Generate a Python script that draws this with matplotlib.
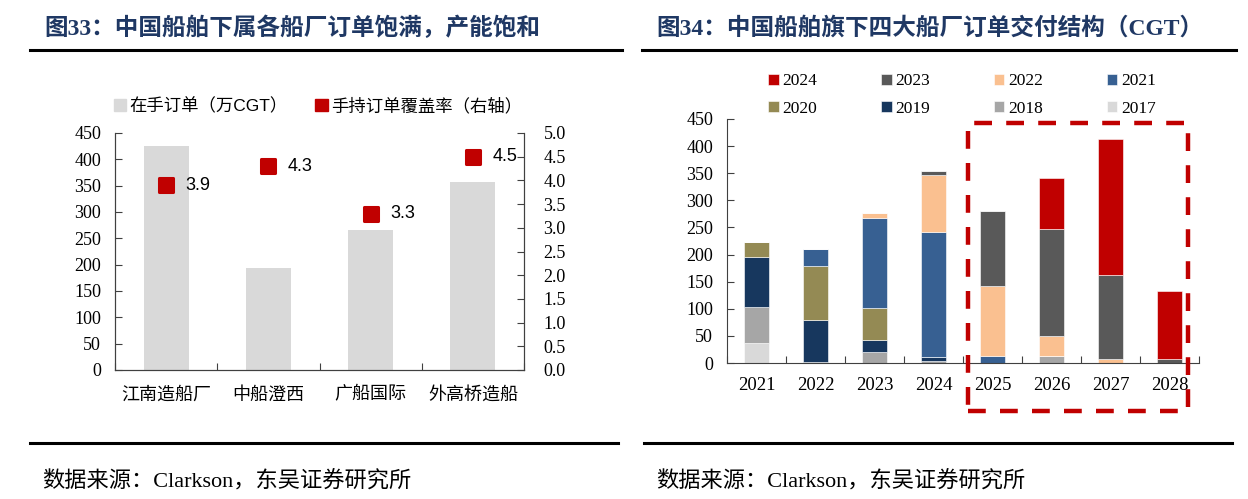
import numpy as np
import matplotlib
matplotlib.use('Agg')
import matplotlib.pyplot as plt
from matplotlib.lines import Line2D
from matplotlib.patches import Rectangle, Patch
from matplotlib.markers import MarkerStyle

# fonts: latin in serif, chinese falls back to Noto CJK
serif_cjk = ['Liberation Serif', 'Noto Sans CJK SC']
sans_cjk = ['Liberation Sans', 'Noto Sans CJK SC']
plt.rcParams['font.family'] = serif_cjk

# ---- data, left chart ----
yards = ['江南造船厂', '中船澄西', '广船国际', '外高桥造船']
orders = [425, 193, 265, 357]          # 在手订单（万CGT）
coverage = [3.9, 4.3, 3.3, 4.5]        # 手持订单覆盖率（右轴）

# ---- data, right chart ----
years = ['2021', '2022', '2023', '2024', '2025', '2026', '2027', '2028']
s2017 = [37, 0, 0, 0, 0, 0, 0, 0]
s2018 = [66, 2, 20, 3, 0, 12, 0, 0]
s2019 = [93, 78, 23, 8, 0, 0, 0, 0]
s2020 = [27, 99, 59, 0, 0, 0, 0, 0]
s2021 = [0, 31, 165, 230, 13, 0, 0, 0]
s2022 = [0, 0, 10, 105, 129, 38, 7, 0]
s2023 = [0, 0, 0, 9, 138, 197, 156, 7]
s2024 = [0, 0, 0, 0, 0, 94, 250, 125]
series = [('2017', s2017, '#D9D9D9'), ('2018', s2018, '#A6A6A6'),
          ('2019', s2019, '#17375E'), ('2020', s2020, '#948A54'),
          ('2021', s2021, '#376092'), ('2022', s2022, '#FAC090'),
          ('2023', s2023, '#595959'), ('2024', s2024, '#C00000')]

title_color = '#1F3864'
W, H = 1248, 499
fig = plt.figure(figsize=(W / 100, H / 100), dpi=100)


def fx(px):
    return px / W


def fy(py):
    return 1 - py / H


# ---- decorations: titles, rules, sources ----
fig.text(fx(44), fy(28), '图33：中国船舶下属各船厂订单饱满，产能饱和', fontsize=17,
         fontweight='bold', color=title_color, va='center', ha='left', family=serif_cjk)
fig.text(fx(656), fy(28), '图34：中国船舶旗下四大船厂订单交付结构（CGT）', fontsize=17,
         fontweight='bold', color=title_color, va='center', ha='left', family=serif_cjk)
for x0, x1, y in [(30, 622, 50), (642, 1236, 50), (30, 618, 443), (644, 1232, 443)]:
    fig.add_artist(Line2D([fx(x0), fx(x1)], [fy(y), fy(y)], color='black', lw=2.2))
fig.text(fx(42), fy(482), '数据来源：Clarkson，东吴证券研究所', fontsize=16,
         va='center', ha='left', family=serif_cjk)
fig.text(fx(656), fy(482), '数据来源：Clarkson，东吴证券研究所', fontsize=16,
         va='center', ha='left', family=serif_cjk)

# ---- left chart ----
ax1 = fig.add_axes([fx(115), fy(370), fx(524 - 115), (370 - 133) / H])
x = np.arange(len(yards))
ax1.bar(x, orders, width=0.44, color='#D9D9D9', zorder=2)
ax1.set_xlim(-0.5, len(yards) - 0.5)
ax1.set_ylim(0, 450)
ax1.set_yticks(np.arange(0, 451, 50))
ax1.set_xticks(np.arange(-0.5, len(yards), 1.0))
ax1.set_xticklabels([])
ax1.set_xticks(x, minor=True)
ax1.set_xticklabels(yards, minor=True, family=sans_cjk, fontsize=13)
ax1.tick_params(axis='x', which='major', direction='in', length=5, color='#404040')
ax1.tick_params(axis='x', which='minor', length=0, pad=12)
ax1.tick_params(axis='y', direction='in', length=5, labelsize=13, pad=10, color='#404040')
ax1.spines['top'].set_visible(False)
for s in ['left', 'bottom', 'right']:
    ax1.spines[s].set_color('#404040')

ax1r = ax1.twinx()
sq = MarkerStyle('s', joinstyle='round')
ax1r.plot(x, coverage, linestyle='none', marker=sq, ms=9.5, mfc='#C00000',
          mec='#C00000', mew=2.2, zorder=3)
for xi, v in zip(x, coverage):
    ax1r.annotate(f'{v:.1f}', (xi, v), xytext=(14, 0), textcoords='offset points',
                  ha='left', va='center', fontsize=13, family=sans_cjk)
ax1r.set_ylim(0, 5)
ax1r.set_yticks(np.arange(0, 5.01, 0.5))
ax1r.set_yticklabels([f'{v:.1f}' for v in np.arange(0, 5.01, 0.5)])
ax1r.tick_params(axis='y', direction='in', length=5, labelsize=13, pad=14, color='#404040')
ax1r.spines['top'].set_visible(False)
for s in ['left', 'bottom', 'right']:
    ax1r.spines[s].set_color('#404040')

h1 = [Patch(color='#D9D9D9'), Patch(color='#C00000')]
fig.legend(h1, ['在手订单（万CGT）', '手持订单覆盖率（右轴）'], loc='center',
           bbox_to_anchor=(fx(318), fy(106)), ncol=2, frameon=False,
           prop={'family': sans_cjk, 'size': 12.5}, handlelength=0.7, handleheight=0.7,
           handletextpad=0.2, columnspacing=1.6)

# ---- right chart ----
ax2 = fig.add_axes([fx(727), fy(363), fx(1199 - 727), (363 - 119) / H])
xr = np.arange(len(years))
bottom = np.zeros(len(years))
handles = {}
for name, vals, col in series:
    vals = np.array(vals, dtype=float)
    b = ax2.bar(xr, vals, bottom=bottom, width=0.44, color=col, edgecolor='white',
                linewidth=0.4, zorder=2)
    handles[name] = b
    bottom += vals
ax2.set_xlim(-0.5, len(years) - 0.5)
ax2.set_ylim(0, 450)
ax2.set_yticks(np.arange(0, 451, 50))
ax2.set_xticks(np.arange(-0.5, len(years), 1.0))
ax2.set_xticklabels([])
ax2.set_xticks(xr, minor=True)
ax2.set_xticklabels(years, minor=True, fontsize=13.5)
ax2.tick_params(axis='x', which='major', direction='in', length=5, color='#404040')
ax2.tick_params(axis='x', which='minor', length=0, pad=10)
ax2.tick_params(axis='y', direction='in', length=5, labelsize=13, pad=10, color='#404040')
for s in ['top', 'right']:
    ax2.spines[s].set_visible(False)
for s in ['left', 'bottom']:
    ax2.spines[s].set_color('#404040')

# dashed box round the forecast years
ax2.add_patch(Rectangle((3.58, -88), 7.31 - 3.58, 442 + 88, fill=False,
                        edgecolor='#C00000', lw=3.2, linestyle=(0, (4, 3.2)),
                        clip_on=False, zorder=5))

order = ['2024', '2020', '2023', '2019', '2022', '2018', '2021', '2017']
fig.legend([handles[k] for k in order], order, loc='center',
           bbox_to_anchor=(fx(962), fy(95)), ncol=4, frameon=False,
           prop={'family': serif_cjk, 'size': 12.5}, handlelength=0.6, handleheight=0.6,
           handletextpad=0.2, columnspacing=3.7, labelspacing=0.65)

fig.savefig('out.png', dpi=100)
